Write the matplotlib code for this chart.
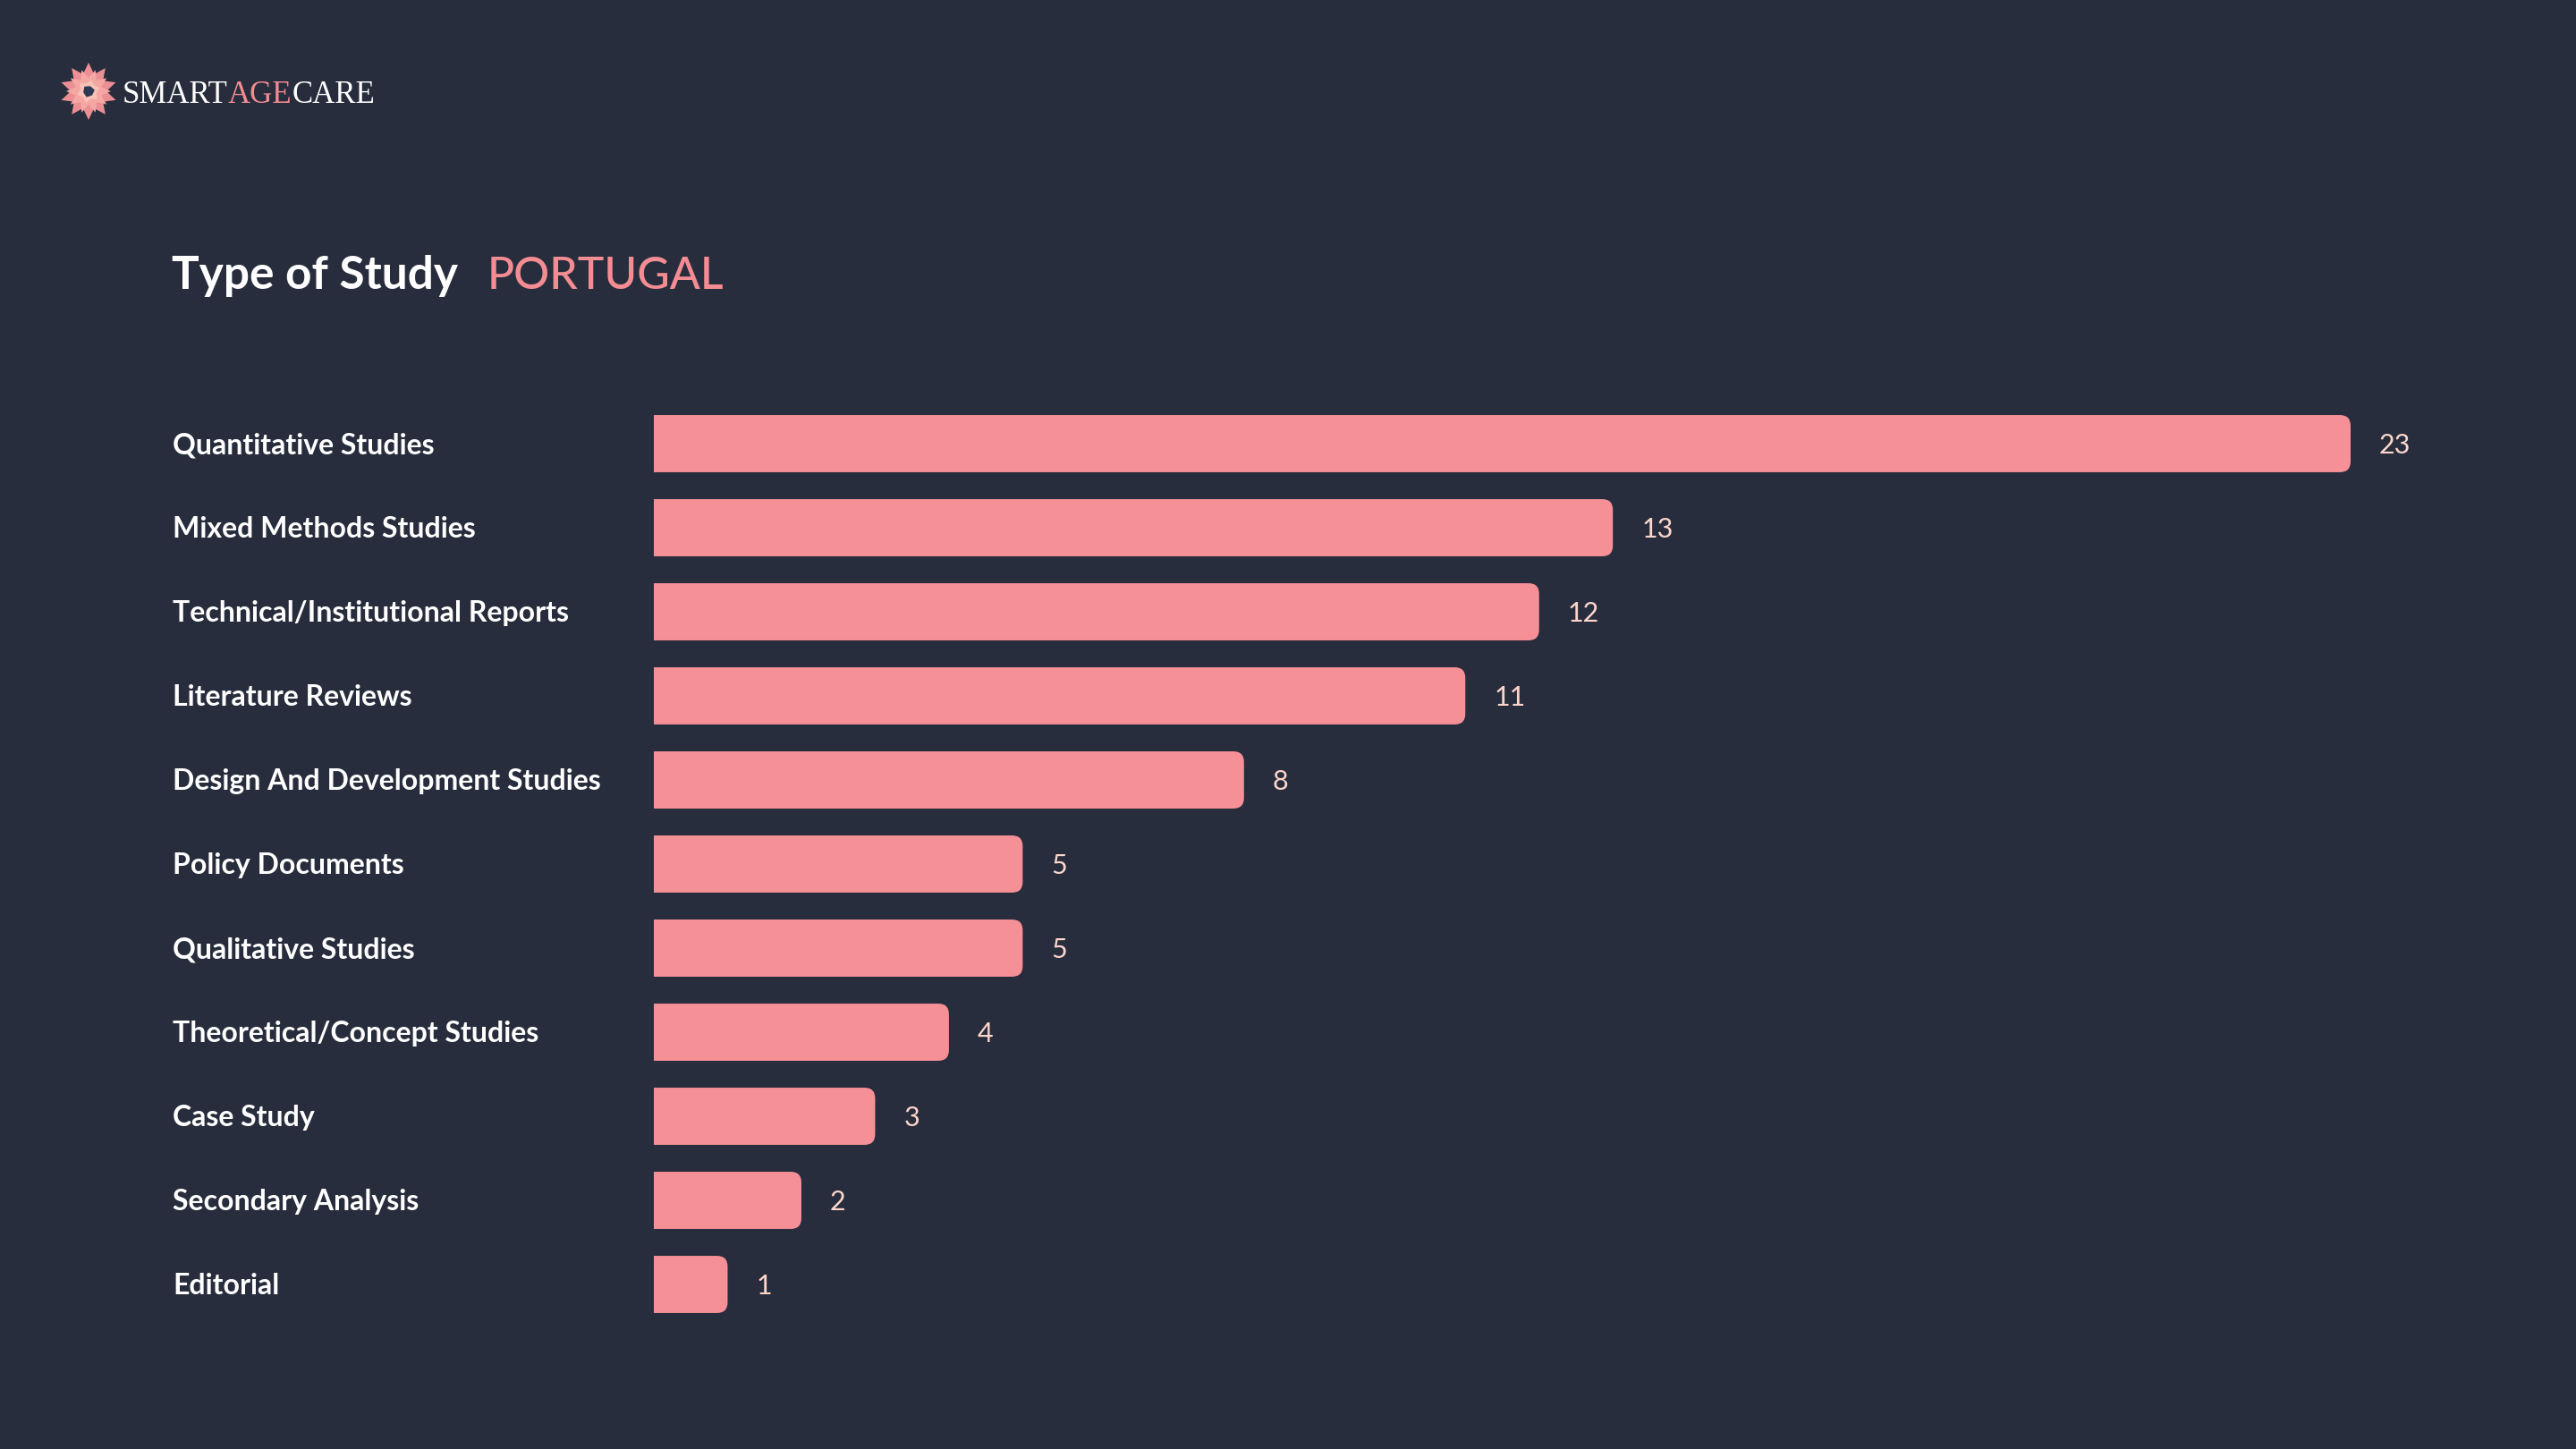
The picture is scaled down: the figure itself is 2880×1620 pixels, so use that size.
import numpy as np
import matplotlib
matplotlib.use("Agg")
import matplotlib.pyplot as plt
from matplotlib.path import Path
from matplotlib.patches import PathPatch, Polygon
from matplotlib.transforms import blended_transform_factory, ScaledTranslation

# ---------------- data ----------------
categories = [
    "Quantitative Studies",
    "Mixed Methods Studies",
    "Technical/Institutional Reports",
    "Literature Reviews",
    "Design And Development Studies",
    "Policy Documents",
    "Qualitative Studies",
    "Theoretical/Concept Studies",
    "Case Study",
    "Secondary Analysis",
    "Editorial",
]
counts = [23, 13, 12, 11, 8, 5, 5, 4, 3, 2, 1]

title_main = "Type of Study"
title_country = "PORTUGAL"

BG = "#272d3c"
BAR = "#f69097"
VALUE_COL = "#fcd6cc"
PINK = "#f48c93"

W, H = 2880, 1620
DPI = 100
plt.rcParams["font.family"] = ["Lato", "DejaVu Sans"]

fig = plt.figure(figsize=(W / DPI, H / DPI), dpi=DPI, facecolor=BG)

# main bar axes: x 0..23 maps to 731..2628 px, rows spaced 94 px
ax = fig.add_axes([731 / W, 1 - 1483 / H, (2628 - 731) / W, 1034 / H])
ax.set_facecolor(BG)
ax.set_xlim(0, max(counts))
ax.set_ylim(len(categories) - 0.5, -0.5)
ax.axis("off")

bar_h = 0.68
rx = 12 / 82.5   # corner radius in x data units
ry = 12 / 94     # corner radius in y data units


def right_rounded_bar(v, yc):
    y0, y1 = yc - bar_h / 2, yc + bar_h / 2
    verts = [(0, y0), (v - rx, y0), (v, y0), (v, y0 + ry),
             (v, y1 - ry), (v, y1), (v - rx, y1), (0, y1), (0, y0)]
    codes = [Path.MOVETO, Path.LINETO, Path.CURVE3, Path.CURVE3,
             Path.LINETO, Path.CURVE3, Path.CURVE3, Path.LINETO, Path.CLOSEPOLY]
    return PathPatch(Path(verts, codes), facecolor=BAR, edgecolor="none")


label_tr = blended_transform_factory(fig.transFigure, ax.transData)
value_tr = ax.transData + ScaledTranslation(32 / DPI, 0, fig.dpi_scale_trans)

for i, (cat, v) in enumerate(zip(categories, counts)):
    ax.add_patch(right_rounded_bar(v, i))
    ax.text(193 / W, i + 0.12, cat, transform=label_tr, color="white",
            fontsize=23, fontweight="bold", va="baseline", ha="left")
    ax.text(v, i + 0.12, str(v), transform=value_tr, color=VALUE_COL,
            fontsize=22, va="baseline", ha="left", clip_on=False)

# ---------------- title ----------------
fig.text(192 / W, 1 - 323 / H, title_main, color="white", fontsize=37,
         fontweight="bold", va="baseline", ha="left")
fig.text(545 / W, 1 - 323 / H, title_country, color=PINK, fontsize=36,
         fontweight="medium", va="baseline", ha="left")

# ---------------- logo ----------------
lax = fig.add_axes([59 / W, 1 - 142 / H, 80 / W, 80 / H])
lax.set_xlim(-40, 40)
lax.set_ylim(-40, 40)
lax.set_aspect("equal")
lax.axis("off")


def star(n, r_out, r_in, rot):
    ang = np.linspace(0, 2 * np.pi, 2 * n, endpoint=False) + rot
    rad = np.where(np.arange(2 * n) % 2 == 0, r_out, r_in)
    return np.column_stack([rad * np.cos(ang), rad * np.sin(ang)])


lax.add_patch(Polygon(star(10, 32, 20, np.pi / 2), closed=True,
                      facecolor="#ec8f95", edgecolor="none"))
lax.add_patch(Polygon(star(10, 25, 15, np.pi / 2 + np.pi / 10), closed=True,
                      facecolor="#f4a7a3", edgecolor="none"))
lax.add_patch(Polygon(star(6, 13, 9, 0.3), closed=True,
                      facecolor="#f8c2b6", edgecolor="none"))
lax.add_patch(Polygon(star(3, 7, 6, 0.2), closed=True,
                      facecolor="#2c3955", edgecolor="none"))

# wordmark: SMART AGE CARE with AGE in pink
fig.canvas.draw()
renderer = fig.canvas.get_renderer()
x_px = 137
for part, col in [("SMART", "white"), ("AGE", PINK), ("CARE", "white")]:
    t = fig.text(x_px / W, 1 - 115 / H, part, color=col, fontsize=25,
                 family=["Liberation Serif", "DejaVu Serif"],
                 va="baseline", ha="left")
    bb = t.get_window_extent(renderer)
    x_px += bb.width

fig.savefig("out.png", dpi=DPI, facecolor=BG)
